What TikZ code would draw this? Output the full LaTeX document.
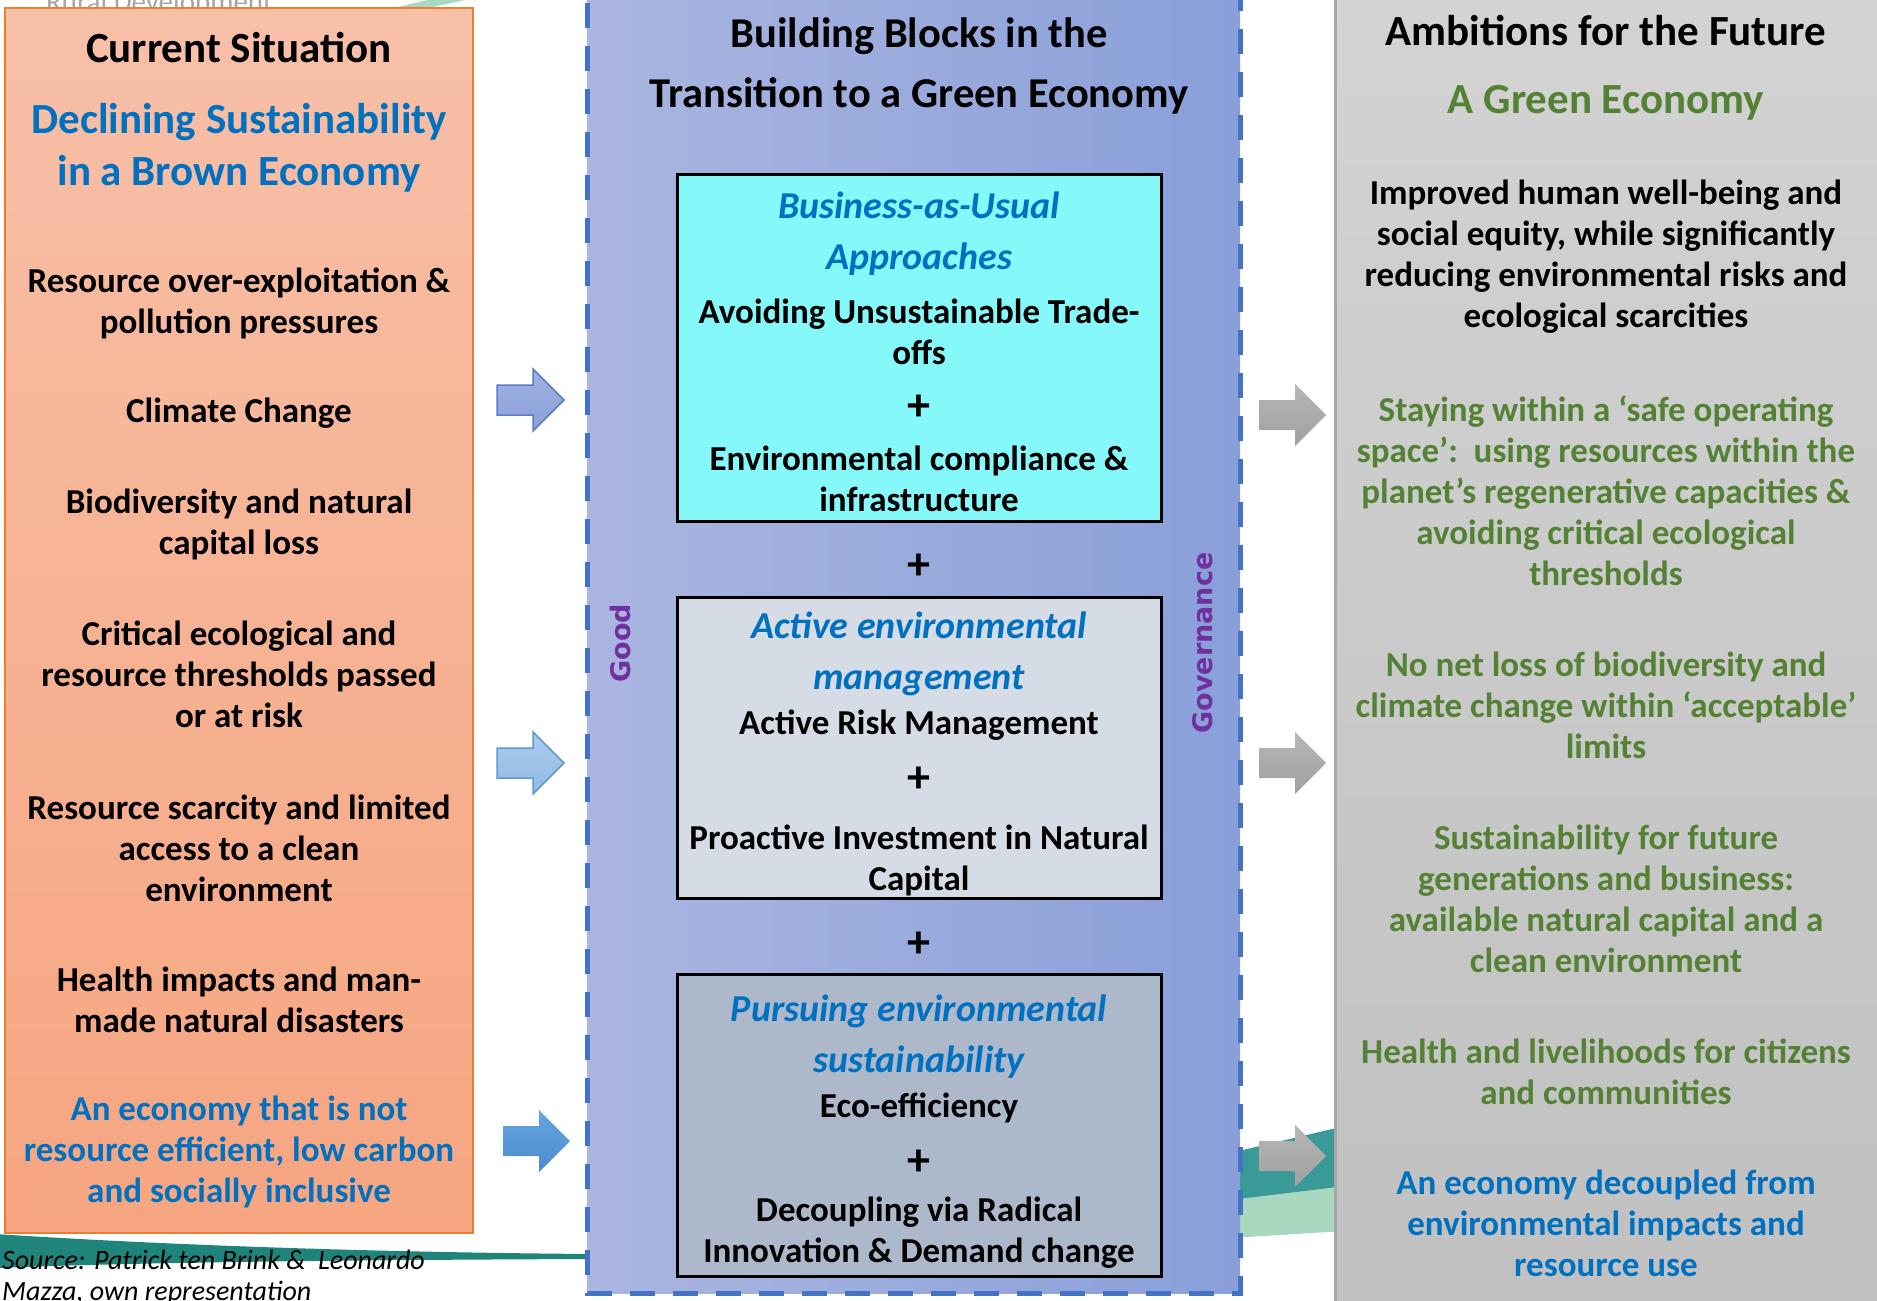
\documentclass[tikz,border=0pt]{standalone}
\usepackage{fontspec}
\setmainfont{Carlito}
\newfontfamily\govfont{DejaVu Sans}

\definecolor{salmontop}{RGB}{247,192,168}
\definecolor{salmonbot}{RGB}{246,165,128}
\definecolor{salmonline}{RGB}{237,125,49}
\definecolor{blocksleft}{RGB}{170,182,224}
\definecolor{blocksright}{RGB}{137,159,217}
\definecolor{dashblue}{RGB}{68,114,196}
\definecolor{bauface}{RGB}{133,248,250}
\definecolor{activeface}{RGB}{214,220,229}
\definecolor{pursueface}{RGB}{173,185,202}
\definecolor{futuretop}{RGB}{211,211,211}
\definecolor{futurebot}{RGB}{192,192,192}
\definecolor{futureline}{RGB}{166,166,166}
\definecolor{headblue}{RGB}{0,112,192}
\definecolor{ambgreen}{RGB}{84,130,53}
\definecolor{govpurple}{RGB}{112,48,160}
\definecolor{swoosh}{RGB}{31,133,122}
\definecolor{swooshlight}{RGB}{58,154,152}
\definecolor{mint}{RGB}{168,216,192}

\tikzstyle{body}=[align=center, inner sep=0pt, font=\bfseries\fontsize{35}{41}\selectfont]
\tikzstyle{title}=[body, font=\bfseries\fontsize{43}{60}\selectfont]
\tikzstyle{head}=[body, font=\bfseries\fontsize{43}{52}\selectfont, text=headblue]
\tikzstyle{ital}=[body, font=\bfseries\itshape\fontsize{38}{51}\selectfont, text=headblue]
\tikzstyle{plus}=[body, font=\bfseries\fontsize{46}{46}\selectfont]
\tikzstyle{gov}=[inner sep=0pt, rotate=90, text=govpurple, font=\govfont\bfseries\fontsize{27}{27}\selectfont]
\tikzstyle{block}=[draw=black, line width=3pt]
\tikzstyle{arrA}=[draw={rgb,255:red,91;green,123;blue,200}, line width=1.5pt, top color={rgb,255:red,160;green,178;blue,226}, bottom color={rgb,255:red,140;green,160;blue,216}]
\tikzstyle{arrB}=[draw={rgb,255:red,91;green,155;blue,213}, line width=1.5pt, top color={rgb,255:red,174;green,202;blue,235}, bottom color={rgb,255:red,146;green,186;blue,228}]
\tikzstyle{arrC}=[draw=none, top color={rgb,255:red,100;green,165;blue,222}, bottom color={rgb,255:red,76;green,140;blue,206}]
\tikzstyle{arrG}=[draw=none, top color={rgb,255:red,182;green,182;blue,182}, bottom color={rgb,255:red,160;green,160;blue,160}]

\begin{document}
\begin{tikzpicture}[x=1pt, y=-1pt]
	\useasboundingbox (0,0) rectangle (1877,1301);
	\clip (0,0) rectangle (1877,1301);
	%background swooshes
	\fill[swoosh] (-5,1234) .. controls (150,1244) and (350,1252) .. (590,1254)
		-- (590,1259) .. controls (350,1260) and (150,1262) .. (-5,1268) -- cycle;
	\fill[mint] (1230,1198) -- (1345,1184) -- (1345,1231) -- (1230,1238) -- cycle;
	\fill[swooshlight] (1230,1153) -- (1345,1126) -- (1345,1186) -- (1230,1200) -- cycle;
	\draw[mint, line width=8pt] (395,12) .. controls (430,3) and (455,-2) .. (485,-8);
	\node[anchor=base west, inner sep=0pt, text=futureline, font=\fontsize{29}{29}\selectfont] (slide) at (46,11) {Rural Development};
	%columns
	\draw[draw=salmonline, line width=2pt, top color=salmontop, bottom color=salmonbot] (5,8) rectangle (473,1233);
	\draw[draw=dashblue, line width=5pt, dash pattern=on 25pt off 18pt, left color=blocksleft, right color=blocksright] (587,-40) rectangle (1240,1293);
	\draw[draw=futureline, line width=3pt, top color=futuretop, bottom color=futurebot] (1335,-10) rectangle (1895,1320);
	%building blocks
	\draw[block, fill=bauface] (677,174) rectangle (1161,521);
	\draw[block, fill=activeface] (677,597) rectangle (1161,898);
	\draw[block, fill=pursueface] (677,974) rectangle (1161,1276);
	%arrows
	\foreach \ax/\ay/\sty in {497/400/arrA, 497/763/arrB, 503/1141/arrC,
		1259/415/arrG, 1259/763/arrG, 1259/1156/arrG}
	\draw[\sty] (\ax,\ay-15) -- ++(36,0) -- ++(0,-16) -- ++(31,31)
		-- ++(-31,31) -- ++(0,-16) -- ++(-36,0) -- cycle;
	%current situation
	\node[title] (cur) at (239,48) {Current Situation};
	\node[head] (brown) at (239,148) {Declining Sustainability\\in a Brown Economy};
	\node[body] (pressure) at (239,303) {Resource over-exploitation \&\\pollution pressures};
	\node[body] (climate) at (239,413) {Climate Change};
	\node[body] (biodiv) at (239,524) {Biodiversity and natural\\capital loss};
	\node[body] (thresh) at (239,674) {Critical ecological and\\resource thresholds passed\\or at risk};
	\node[body] (scarce) at (239,848) {Resource scarcity and limited\\access to a clean\\environment};
	\node[body] (health) at (239,1000) {Health impacts and man-\\made natural disasters};
	\node[body, text=headblue] (noteff) at (239,1152) {An economy that is not\\resource efficient, low carbon\\and socially inclusive};
	\node[anchor=west, align=left, inner sep=0pt, font=\itshape\fontsize{28}{31}\selectfont] (source) at (2,1278) {Source: Patrick ten Brink \&\ \ Leonardo\\Mazza, own representation};
	%building blocks text
	\node[title, font=\bfseries\fontsize{42.5}{60}\selectfont] (blocks) at (919,66) {Building Blocks in the\\Transition to a Green Economy};
	\node[ital] (bau) at (919,234) {Business-as-Usual\\Approaches};
	\node[body] (tradeoff) at (919,332) {Avoiding Unsustainable Trade-\\offs};
	\node[plus] (plusa) at (919,408) {+};
	\node[body] (comply) at (919,479) {Environmental compliance \&\\infrastructure};
	\node[plus] (plusb) at (919,567) {+};
	\node[ital] (active) at (919,654) {Active environmental\\management};
	\node[body] (risk) at (919,725) {Active Risk Management};
	\node[plus] (plusc) at (919,780) {+};
	\node[body] (invest) at (919,860) {Proactive Investment in Natural\\Capital};
	\node[plus] (plusd) at (919,945) {+};
	\node[ital] (pursue) at (919,1037) {Pursuing environmental\\sustainability};
	\node[body] (ecoeff) at (919,1108) {Eco-efficiency};
	\node[plus] (pluse) at (919,1163) {+};
	\node[body] (decouple) at (919,1233) {Decoupling via Radical\\Innovation \& Demand change};
	\node[gov] (good) at (620,643) {Good};
	\node[gov] (governance) at (1203,643) {Governance};
	%ambitions
	\node[title] (future) at (1606,31) {Ambitions for the Future};
	\node[head, text=ambgreen] (green) at (1606,103) {A Green Economy};
	\node[body] (wellbeing) at (1606,257) {Improved human well-being and\\social equity, while significantly\\reducing environmental risks and\\ecological scarcities};
	\node[body, text=ambgreen] (safe) at (1606,491) {Staying within a ‘safe operating\\space’:\ \ using resources within the\\planet’s regenerative capacities \&\\avoiding critical ecological\\thresholds};
	\node[body, text=ambgreen] (noloss) at (1606,705) {No net loss of biodiversity and\\climate change within ‘acceptable’\\limits};
	\node[body, text=ambgreen] (generations) at (1606,899) {Sustainability for future\\generations and business:\\available natural capital and a\\clean environment};
	\node[body, text=ambgreen] (livelihood) at (1606,1072) {Health and livelihoods for citizens\\and communities};
	\node[body, text=headblue] (decoupled) at (1606,1223) {An economy decoupled from\\environmental impacts and\\resource use};
\end{tikzpicture}
\end{document}
